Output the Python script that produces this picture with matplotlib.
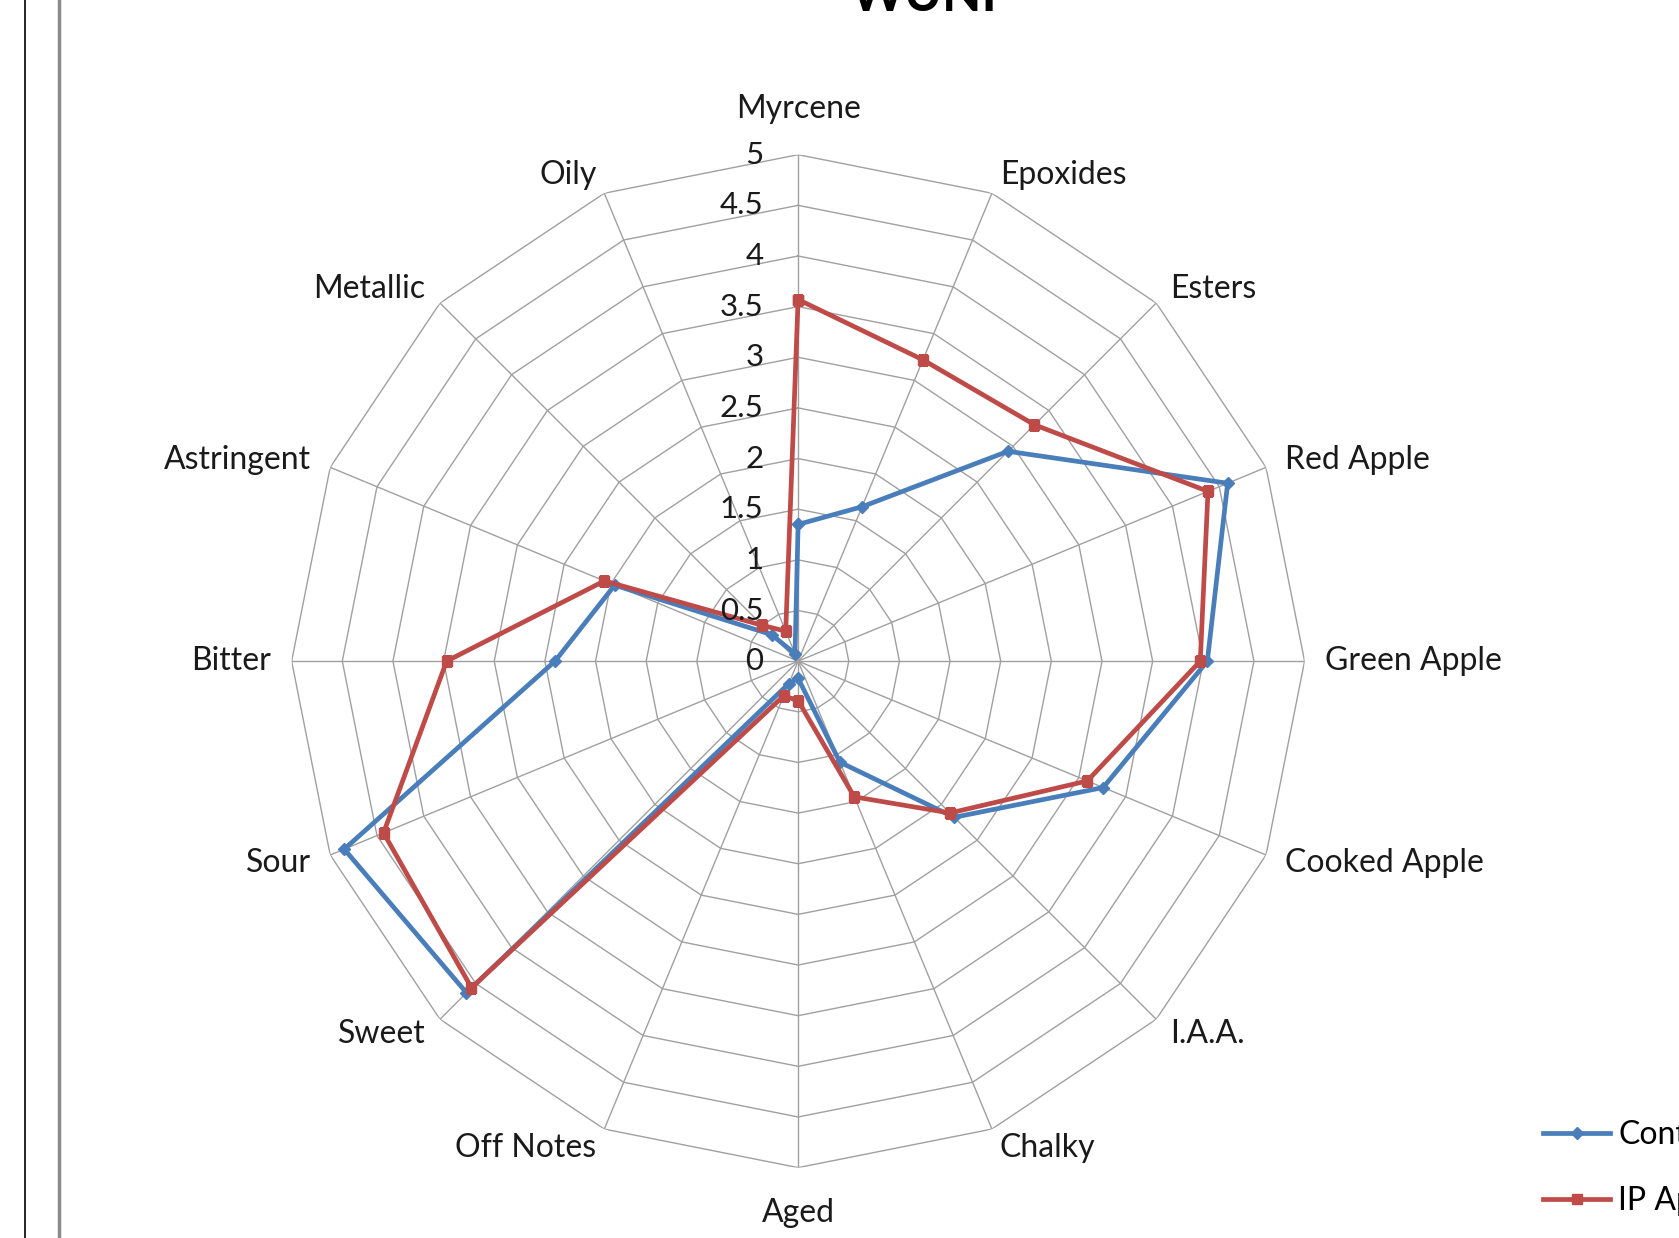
import numpy as np
import matplotlib.pyplot as plt
from matplotlib.lines import Line2D

categories = ["Myrcene", "Epoxides", "Esters", "Red Apple", "Green Apple",
              "Cooked Apple", "I.A.A.", "Chalky", "Aged", "Off Notes",
              "Sweet", "Sour", "Bitter", "Astringent", "Metallic", "Oily"]
control = [1.35, 1.65, 2.93, 4.59, 4.04, 3.26, 2.18, 1.08,
           0.17, 0.24, 4.63, 4.85, 2.40, 1.96, 0.37, 0.08]
ip_apple = [3.57, 3.22, 3.30, 4.38, 3.97, 3.09, 2.12, 1.45,
            0.39, 0.37, 4.56, 4.43, 3.47, 2.07, 0.50, 0.32]
ring_values = [0, 0.5, 1, 1.5, 2, 2.5, 3, 3.5, 4, 4.5, 5]
ring_labels = ["0", "0.5", "1", "1.5", "2", "2.5", "3", "3.5", "4", "4.5", "5"]
series_names = ["Control", "IP Apple"]
title = "WUNF"

BLUE = "#4a7ebb"
RED = "#be4b48"
GRID = "#a0a0a0"
FONT = "Lato"

n = len(categories)
theta = np.arange(n) * 2 * np.pi / n
theta_closed = np.append(theta, theta[0])

fig = plt.figure(figsize=(16.79, 12.38), dpi=100)
ax = fig.add_axes([0.1737, 0.0568, 0.6033, 0.8183], projection="polar")
ax.set_theta_zero_location("N")
ax.set_theta_direction(-1)
ax.set_ylim(0, 5)
ax.grid(False)
ax.spines["polar"].set_visible(False)
ax.set_xticks([])
ax.set_yticks([])
ax.patch.set_visible(False)

# polygon rings and spokes
for r in ring_values[1:]:
    ax.plot(theta_closed, [r] * (n + 1), color=GRID, lw=1.0, zorder=1)
for t in theta:
    ax.plot([t, t], [0, 5], color=GRID, lw=1.0, zorder=1)

# data
ax.plot(theta_closed, control + control[:1], color=BLUE, lw=3.4,
        marker="D", ms=6.5, zorder=3, label=series_names[0])
ax.plot(theta_closed, ip_apple + ip_apple[:1], color=RED, lw=3.4,
        marker="s", ms=6.5, zorder=3, label=series_names[1])

# category labels
for t, name in zip(theta, categories):
    s, c = np.sin(t), np.cos(t)
    if abs(s) < 0.1:
        ha = "center"
        r = 5.45
    else:
        ha = "left" if s > 0 else "right"
        r = 5.2
    ax.text(t, r, name, ha=ha, va="center", fontsize=23, family=FONT,
            color="#1a1a1a")

# radial value labels
for r, lab in zip(ring_values, ring_labels):
    ax.annotate(lab, xy=(0, r), xytext=(-25, 0), textcoords="offset points",
                ha="right", va="center", fontsize=22.5, family=FONT,
                color="#1a1a1a")

fig.text(0.5545, 1 - 11 / 1238, title, ha="center", va="baseline",
         fontsize=37, fontweight="bold", family=FONT)

handles = [Line2D([], [], color=BLUE, lw=3.4, marker="D", ms=6.5),
           Line2D([], [], color=RED, lw=3.4, marker="s", ms=6.5)]
fig.legend(handles, series_names, loc="center left",
           bbox_to_anchor=(1543 / 1679, 1 - 1168 / 1238), frameon=False,
           prop={"family": FONT, "size": 23}, handlelength=2.1,
           handletextpad=0.25, labelspacing=1.12, borderaxespad=0,
           borderpad=0)

# window borders from the screenshot
fig.add_artist(Line2D([25 / 1679] * 2, [0, 1], transform=fig.transFigure,
                      color="black", lw=1.2))
fig.add_artist(Line2D([59 / 1679] * 2, [0, 1], transform=fig.transFigure,
                      color="#8a8a8a", lw=2.5))

fig.savefig("out.png", dpi=100)
